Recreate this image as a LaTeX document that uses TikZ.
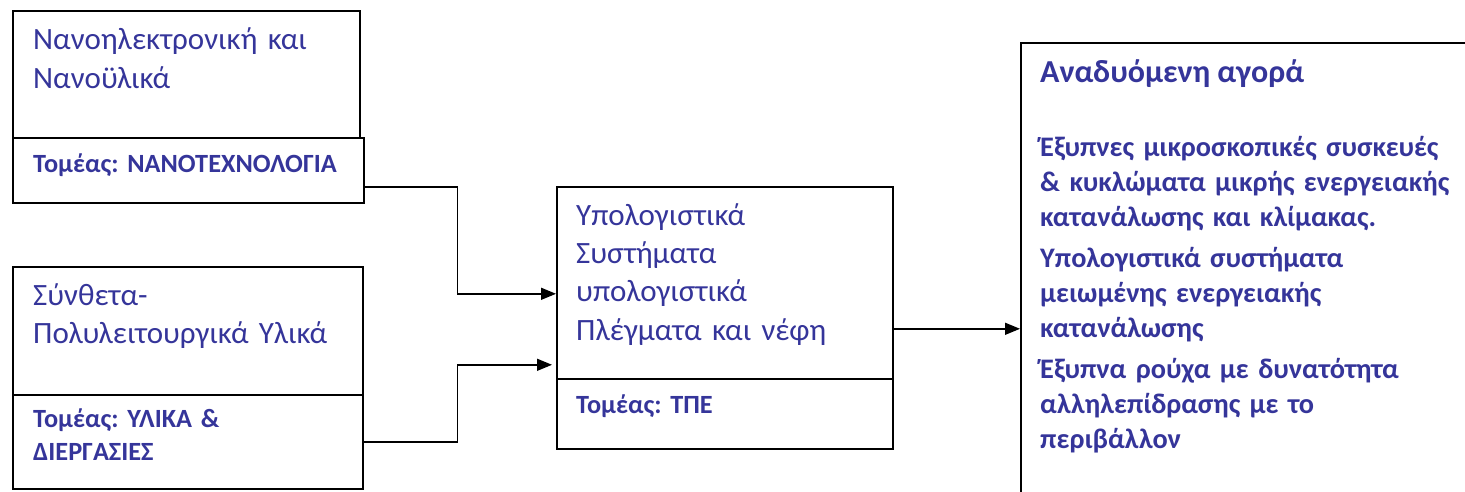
\documentclass[tikz,border=0pt]{standalone}
\usepackage{fontspec}
\setmainfont{Carlito}
\usetikzlibrary{arrows.meta}
\definecolor{txtblue}{RGB}{53,53,154}
\frenchspacing
\tikzset{
  boxpart/.style={draw, line width=1.6pt, rectangle, anchor=north west, inner sep=0pt},
  plain/.style={anchor=base west, inner sep=0pt, text=txtblue, align=left, text width=#1,
    font=\fontsize{31}{38.5}\selectfont},
  sector/.style={anchor=base west, inner sep=0pt, text=txtblue, align=left, text width=#1,
    font=\bfseries\fontsize{26.3}{33}\selectfont},
  conn/.style={line width=1.5pt, -{Triangle[length=15pt,width=12pt]}},
}
\begin{document}
\begin{tikzpicture}[x=1pt,y=-1pt]
\useasboundingbox (0,0) rectangle (1465,492);

% left column: two technology boxes, each with a sector strip
\node[boxpart, minimum width=347pt, minimum height=127pt] (n1top) at (12,10) {};
\node[boxpart, minimum width=351pt, minimum height=65pt] (n1bot) at (12,137) {};
\node[boxpart, minimum width=350pt, minimum height=128pt] (n2top) at (12,266) {};
\node[boxpart, minimum width=350pt, minimum height=94pt] (n2bot) at (12,394) {};

\node[plain=320pt] (t1) at (33,50) {Νανοηλεκτρονική και\\Νανοϋλικά};
\node[sector=320pt] (s1) at (33,173) {Τομέας: ΝΑΝΟΤΕΧΝΟΛΟΓΙΑ};
\node[plain=320pt] (t2) at (33,305) {Σύνθετα-\\Πολυλειτουργικά Υλικά};
\node[sector=320pt] (s2) at (33,427) {Τομέας: ΥΛΙΚΑ \&\\ΔΙΕΡΓΑΣΙΕΣ};

% middle box
\node[boxpart, minimum width=336pt, minimum height=192pt] (mtop) at (556,186) {};
\node[boxpart, minimum width=336pt, minimum height=70pt] (mbot) at (556,378) {};
\node[plain=310pt] (tm) at (576,225) {Υπολογιστικά\\Συστήματα\\υπολογιστικά\\Πλέγματα και νέφη};
\node[sector=310pt] (sm) at (576,413) {Τομέας: ΤΠΕ};

% market box, running past the right and bottom edges
\node[boxpart, minimum width=470pt, minimum height=470pt] (mkt) at (1020,42) {};
\node[anchor=base west, inner sep=0pt, text=txtblue, align=left, text width=424pt,
  font=\bfseries\fontsize{28.3}{35}\selectfont] (tr) at (1040,157)
  {Έξυπνες μικροσκοπικές συσκευές\\
   \& κυκλώματα μικρής ενεργειακής\\
   κατανάλωσης και κλίμακας.\\[6pt]
   Υπολογιστικά συστήματα\\
   μειωμένης ενεργειακής\\
   κατανάλωσης\\[6pt]
   Έξυπνα ρούχα με δυνατότητα\\
   αλληλεπίδρασης με το\\
   περιβάλλον};
\node[anchor=base west, inner sep=0pt, text=txtblue,
  font=\bfseries\fontsize{32}{38}\selectfont] (th) at (1040,83) {Αναδυόμενη αγορά};

% connectors
\draw[conn] ([yshift=-16.5pt]n1bot.east) -- ++(93,0) |- ([yshift=-11pt]mtop.west);
\draw[conn, shorten >=4pt] (n2bot.east) -- ++(94,0) |- ([yshift=-82pt]mtop.west);
\draw[conn] ([yshift=-46pt]mtop.east) -- ([yshift=-46pt]mtop.east -| mkt.west);
\end{tikzpicture}
\end{document}
